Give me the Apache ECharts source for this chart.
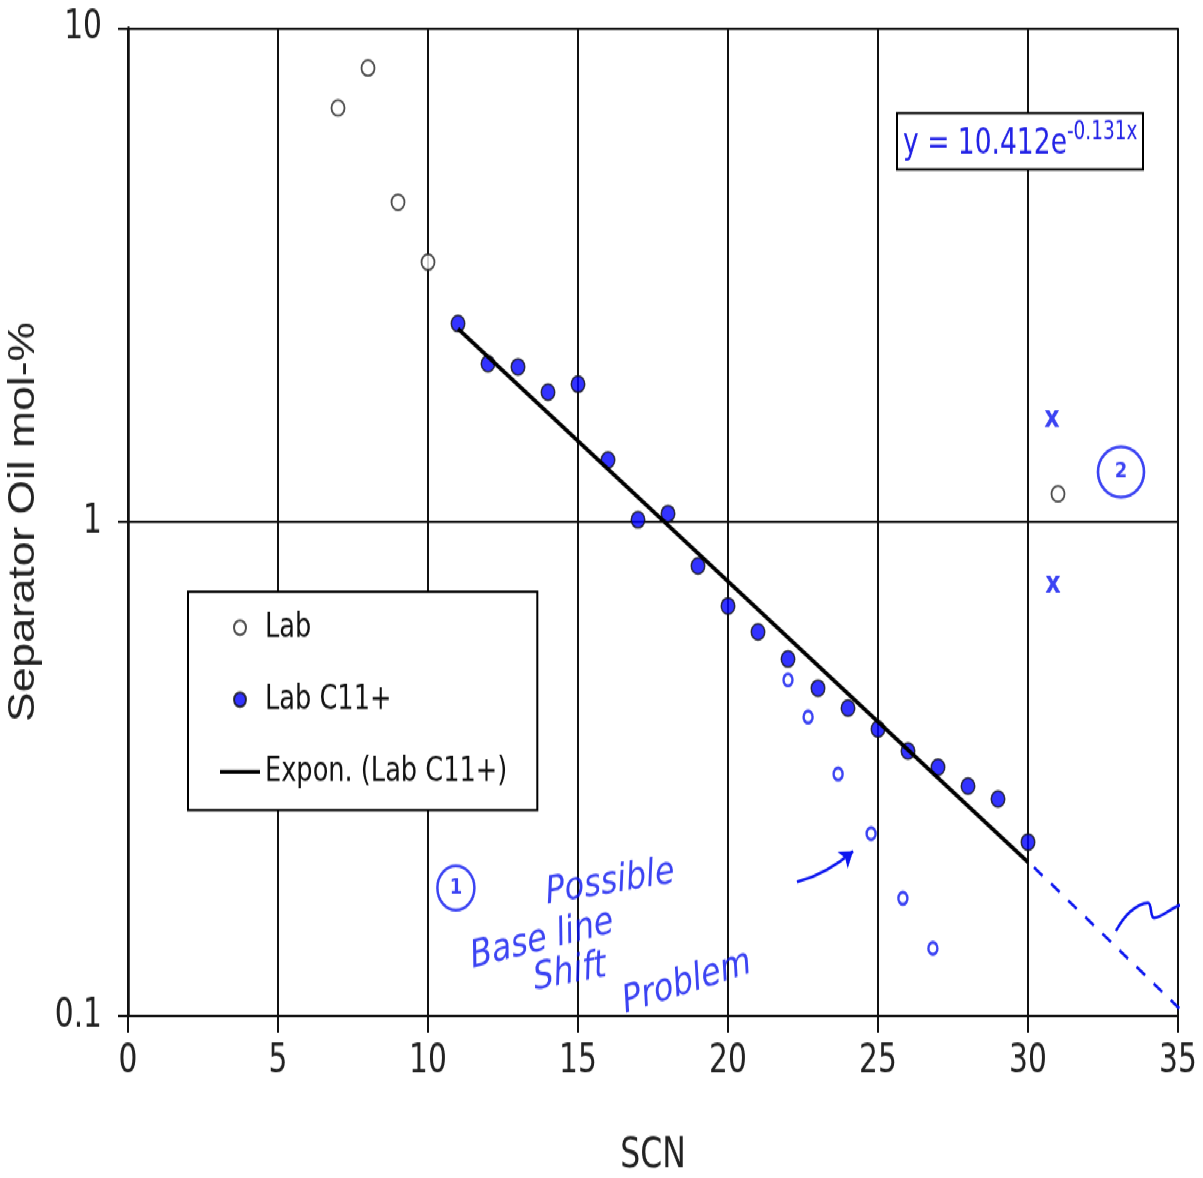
<!DOCTYPE html>
<html><head><meta charset="utf-8">
<script src="https://cdn.jsdelivr.net/npm/echarts@6/dist/echarts.min.js"></script>
<style>
html{margin:0;padding:0;background:#fff;overflow:hidden}
body{margin:0;padding:0;background:#fff;width:1203px;height:1178px}
#c{width:1203px;height:982px;transform:scaleY(1.19959);transform-origin:0 0}
</style>
</head><body><div id="c"></div>
<script>
// ---- data ----
const labX = [7, 8, 9, 10, 31];
const labY = [6.89, 8.30, 4.44, 3.36, 1.14];
const c11X = [11, 12, 13, 14, 15, 16, 17, 18, 19, 20, 21, 22, 23, 24, 25, 26, 27, 28, 29, 30];
const c11Y = [2.52, 2.09, 2.06, 1.83, 1.90, 1.335, 1.01, 1.04, 0.815, 0.676, 0.599, 0.528, 0.461, 0.420, 0.381, 0.344, 0.319, 0.292, 0.275, 0.225];
const trendX = [11, 30];
const trendY = [2.46, 0.205];
const seriesNames = ['Lab', 'Lab C11+', 'Expon. (Lab C11+)'];
const equationMain = 'y = 10.412e';
const equationExp = '-0.131x';
const xAxisTitle = 'SCN';
const yAxisTitle = 'Separator Oil mol-%';

// ---- hand-drawn annotations (data coordinates) ----
const handOX = [22.0, 22.67, 23.67, 24.77, 25.83, 26.83];
const handOY = [0.479, 0.403, 0.309, 0.234, 0.173, 0.137];
const crossX = [30.8, 30.83];
const crossY = [1.61, 0.746];
const dashX = [30.2, 35.6];
const dashY = [0.200, 0.096];
const waveX = [32.93, 33.4, 34.0, 34.2, 35.0, 35.8];
const waveY = [0.1486, 0.1624, 0.1694, 0.158, 0.167, 0.1734];
const arrowX = [22.3, 24.17];
const arrowY = [0.1867, 0.2158];
const noteText = ['Possible', 'Base line', 'Shift', 'Problem'];
const noteX = [16.07, 13.8, 14.73, 18.63];
const noteY = [0.186, 0.1425, 0.1222, 0.1167];
const circText = ['1', '2'];
const circX = [10.93, 33.1];
const circY = [0.1816, 1.262];

// ---- styling (the page is stretched vertically by 1.2 like the reference) ----
const FN = "'DejaVu Sans Condensed','Liberation Sans Narrow',sans-serif";
const FR = "'Liberation Sans',Arial,sans-serif";
const FH = "'DejaVu Sans',sans-serif";
const HAND = '#0a14f0';
const EQ = '#2222e6';
const noteRotate = [8, 12, 9, 15];
const circSize = [[37, 37], [46, 42]];
const pairs = (xs, ys) => xs.map((x, i) => [x, ys[i]]);

const chart = echarts.init(document.getElementById('c'));
chart.setOption({
  animation: false,
  backgroundColor: '#fff',
  grid: { left: 128, right: 25, top: 23.34, bottom: 135.05, outerBoundsMode: 'none', containLabel: false },
  title: {
    text: '{a|' + equationMain + '}{b|' + equationExp + '}',
    left: 897, top: 94.2,
    padding: [6, 6, 6, 6],
    borderColor: '#000', borderWidth: 2, backgroundColor: '#fff',
    textStyle: { fontWeight: 'normal', rich: {
      a: { fontFamily: FN, fontSize: 29.5, fontWeight: 'normal', color: EQ, lineHeight: 41 },
      b: { fontFamily: FN, fontSize: 20.5, fontWeight: 'normal', color: EQ, lineHeight: 38, verticalAlign: 'top' }
    } }
  },
  legend: {
    orient: 'vertical', left: 188, top: 493.3,
    padding: [14, 30, 16, 32],
    itemGap: 28, itemWidth: 40, itemHeight: 12,
    borderColor: '#000', borderWidth: 2, backgroundColor: '#fff',
    selectedMode: false,
    textStyle: { fontFamily: FN, fontSize: 28.5, color: '#111', lineHeight: 32 },
    data: [
      { name: seriesNames[0], icon: 'circle' },
      { name: seriesNames[1], icon: 'circle' },
      { name: seriesNames[2], icon: 'path://M0,0H40V3.3H0Z' }
    ]
  },
  xAxis: {
    type: 'value', min: 0, max: 35, interval: 5,
    axisLine: { show: true, onZero: false, lineStyle: { color: '#111', width: 2.2 } },
    axisTick: { show: true, length: 14, lineStyle: { color: '#111', width: 2 } },
    axisLabel: { margin: 22, fontFamily: FN, fontSize: 33, color: '#222' },
    splitLine: { show: true, lineStyle: { color: '#111', width: 2 } },
    name: xAxisTitle, nameLocation: 'middle', nameGap: 99,
    nameTextStyle: { fontFamily: FN, fontSize: 35, color: '#222' }
  },
  yAxis: {
    type: 'log', logBase: 10, min: 0.1, max: 10,
    axisLine: { show: true, lineStyle: { color: '#111', width: 2.5 } },
    axisTick: { show: true, length: 10, lineStyle: { color: '#111', width: 2 } },
    axisLabel: { margin: 26, fontFamily: FN, fontSize: 33, color: '#222' },
    splitLine: { show: true, lineStyle: { color: '#111', width: 2 } },
    name: yAxisTitle, nameLocation: 'middle', nameGap: 86,
    nameTextStyle: { fontFamily: FR, fontSize: 37, color: '#222' }
  },
  series: [
    {
      name: seriesNames[0], type: 'scatter', data: pairs(labX, labY),
      symbol: 'circle', symbolSize: 13, z: 3, silent: true,
      itemStyle: { color: '#fff', borderColor: '#222', borderWidth: 1.8 }
    },
    {
      name: seriesNames[1], type: 'scatter', data: pairs(c11X, c11Y),
      symbol: 'circle', symbolSize: 13.5, z: 3, silent: true,
      itemStyle: { color: '#0000ff', borderColor: '#111', borderWidth: 1.5 }
    },
    {
      name: seriesNames[2], type: 'line', data: pairs(trendX, trendY),
      symbol: 'none', z: 4, silent: true, color: '#000',
      itemStyle: { color: '#000' },
      lineStyle: { color: '#000', width: 3.6 }
    },
    {
      name: 'hand-o', type: 'scatter', data: pairs(handOX, handOY),
      symbol: 'circle', symbolSize: [9, 10], z: 5, silent: true,
      itemStyle: { color: 'rgba(0,0,0,0)', borderColor: HAND, borderWidth: 2.5 }
    },
    {
      name: 'hand-x', type: 'scatter', data: pairs(crossX, crossY),
      symbolSize: 1, z: 5, silent: true,
      itemStyle: { color: 'rgba(0,0,0,0)' },
      label: { show: true, position: 'inside', formatter: 'x', fontFamily: FH, fontSize: 24, fontWeight: 'bold', color: HAND }
    },
    {
      name: 'hand-dash', type: 'line', data: pairs(dashX, dashY),
      symbol: 'none', clip: false, z: 5, silent: true,
      lineStyle: { color: HAND, width: 2.5, type: [11, 11] }
    },
    {
      name: 'hand-wave', type: 'line', data: pairs(waveX, waveY),
      symbol: 'none', clip: false, smooth: 0.4, z: 5, silent: true,
      lineStyle: { color: HAND, width: 2.5 }
    },
    {
      name: 'hand-arrow', type: 'lines', coordinateSystem: 'cartesian2d',
      data: [{ coords: pairs(arrowX, arrowY) }],
      symbol: ['none', 'arrow'], symbolSize: 13, z: 5, silent: true,
      lineStyle: { color: HAND, width: 2.5, curveness: -0.1, opacity: 1 }
    },
    {
      name: 'hand-notes', type: 'scatter', z: 5, silent: true,
      data: pairs(noteX, noteY).map((p, i) => ({ value: p, name: noteText[i], label: { rotate: noteRotate[i] } })),
      symbolSize: 1, itemStyle: { color: 'rgba(0,0,0,0)' },
      label: { show: true, position: 'inside', formatter: '{b}', fontFamily: FH, fontStyle: 'italic', fontSize: 32, color: HAND }
    },
    {
      name: 'hand-circles', type: 'scatter', z: 5, silent: true,
      data: pairs(circX, circY).map((p, i) => ({ value: p, name: circText[i], symbolSize: circSize[i] })),
      symbol: 'circle',
      itemStyle: { color: 'rgba(0,0,0,0)', borderColor: HAND, borderWidth: 2.5 },
      label: { show: true, position: 'inside', formatter: '{b}', fontFamily: FH, fontSize: 18, fontWeight: 'bold', color: HAND }
    }
  ]
});
</script>
</body></html>
